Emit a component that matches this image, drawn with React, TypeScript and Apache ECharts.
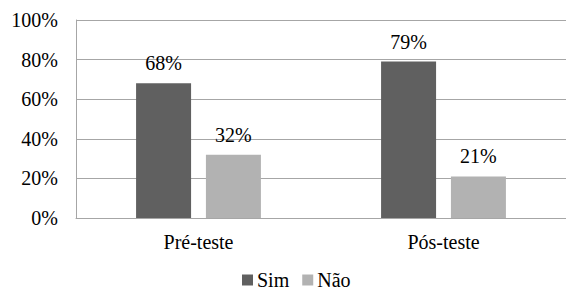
import React, { useEffect, useRef } from "react";
import * as echarts from "echarts";

const categories = ["Pré-teste", "Pós-teste"];
const simValues = [68, 79];
const naoValues = [32, 21];
const yTicks = [0, 20, 40, 60, 80, 100];

export default function App() {
  const ref = useRef<HTMLDivElement>(null);
  useEffect(() => {
    const chart = echarts.init(ref.current!, null, { renderer: "svg" });
    const font = "Liberation Serif";
    const fs = 20;
    chart.setOption({
      animation: false,
      textStyle: { fontFamily: font },
      grid: { left: 76, right: -2, top: 20, bottom: 72, containLabel: false },
      legend: {
        data: ["Sim", "Não"],
        top: 270,
        left: 242,
        itemWidth: 11,
        itemHeight: 11,
        itemGap: 13,
        icon: "rect",
        textStyle: { fontFamily: font, fontSize: fs, color: "#000", padding: [0, 0, 0, -1] },
        padding: 0,
      },
      xAxis: {
        type: "category",
        data: categories,
        axisLine: { lineStyle: { color: "#a6a6a6", width: 1 } },
        axisTick: { show: false },
        axisLabel: { fontFamily: font, fontSize: fs, color: "#000", margin: 14 },
      },
      yAxis: {
        type: "value",
        min: 0,
        max: 100,
        interval: 20,
        axisLine: { show: true, lineStyle: { color: "#a6a6a6", width: 1 } },
        axisTick: { show: false },
        splitLine: { lineStyle: { color: "#a6a6a6", width: 1 } },
        axisLabel: {
          fontFamily: font,
          fontSize: fs,
          color: "#000",
          margin: 18,
          formatter: (v: number) => (yTicks.includes(v) ? v + "%" : ""),
        },
      },
      series: [
        {
          name: "Sim",
          type: "bar",
          data: simValues,
          barWidth: 55,
          barGap: "27%",
          itemStyle: { color: "#606060" },
          label: {
            show: true,
            position: "top",
            distance: 10,
            formatter: "{c}%",
            fontFamily: font,
            fontSize: fs,
            color: "#000",
          },
        },
        {
          name: "Não",
          type: "bar",
          data: naoValues,
          barWidth: 55,
          barGap: "27%",
          itemStyle: { color: "#b2b2b2" },
          label: {
            show: true,
            position: "top",
            distance: 10,
            formatter: "{c}%",
            fontFamily: font,
            fontSize: fs,
            color: "#000",
          },
        },
      ],
    });
    return () => chart.dispose();
  }, []);
  return (
    <div
      ref={ref}
      style={{ position: "fixed", left: 0, top: 0, width: 566, height: 290, background: "#fff" }}
    />
  );
}
